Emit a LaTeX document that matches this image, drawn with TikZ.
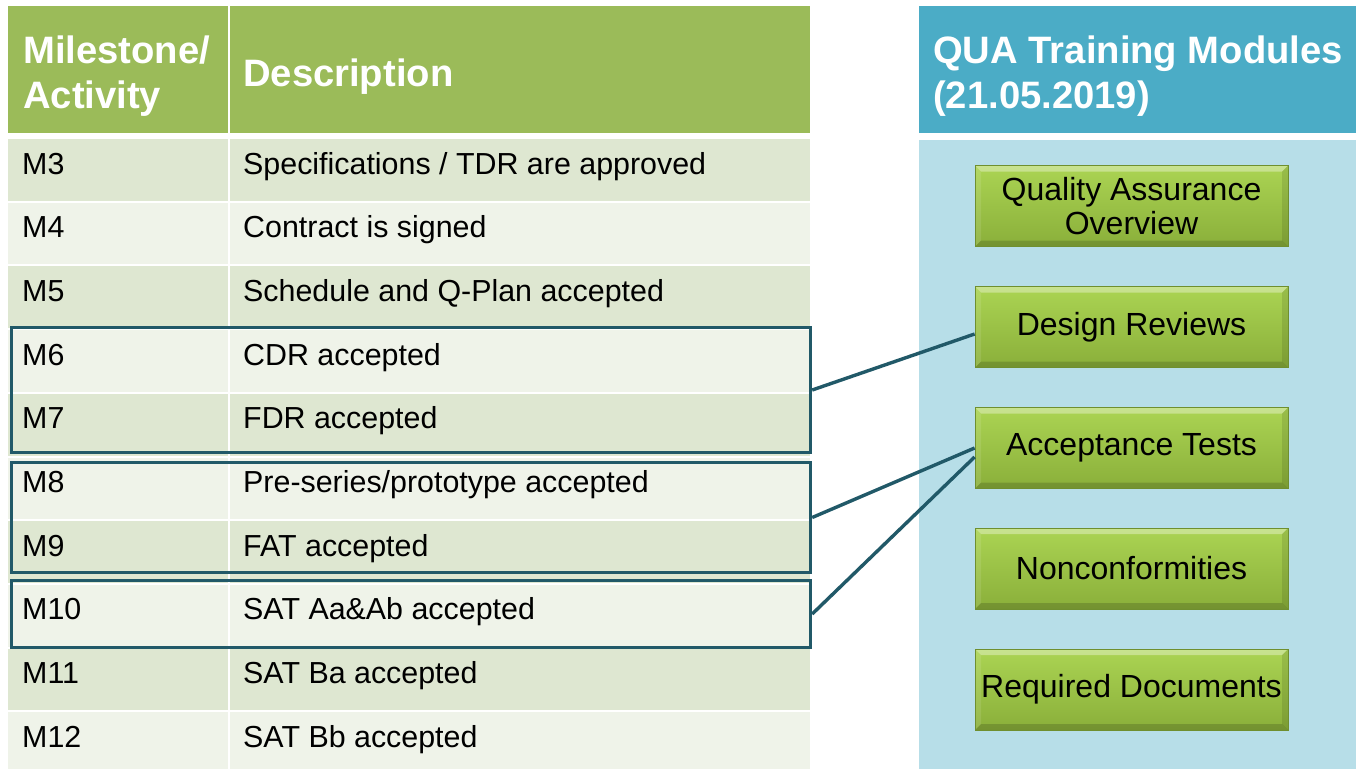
\documentclass[tikz,border=0pt]{standalone}
\usepackage{fontspec}
\setmainfont{Liberation Sans}
\usetikzlibrary{calc}

\definecolor{hdrgreen}{HTML}{9BBB59}
\definecolor{rowdark}{HTML}{DEE7D1}
\definecolor{rowlight}{HTML}{EFF3E9}
\definecolor{hdrblue}{HTML}{4BACC6}
\definecolor{panelblue}{HTML}{B7DEE8}
\definecolor{grpline}{HTML}{215968}
\definecolor{btntop}{HTML}{ABD453}
\definecolor{btnbot}{HTML}{8AAF3A}
\definecolor{btnedge}{HTML}{6F8F2F}

\tikzset{
  cell/.style={anchor=base west, inner sep=0pt, font=\fontsize{30.4}{36}\selectfont},
  hdrtext/.style={anchor=base west, inner sep=0pt, text=white, font=\fontsize{38.2}{45}\selectfont\bfseries},
  grpbox/.style={rectangle, draw=grpline, line width=3.4pt, inner sep=0pt, minimum width=799pt},
  link/.style={draw=grpline, line width=3.4pt},
  btn/.style={rectangle, inner sep=0pt, minimum width=313pt, minimum height=81pt,
    align=center, font=\fontsize{32}{34}\selectfont,
    top color=btntop, bottom color=btnbot, draw=btnedge, line width=0.8pt,
    path picture={
      \coordinate (bnw) at (path picture bounding box.north west);
      \coordinate (bne) at (path picture bounding box.north east);
      \coordinate (bsw) at (path picture bounding box.south west);
      \coordinate (bse) at (path picture bounding box.south east);
      \fill[white, opacity=0.35] (bnw) -- (bne) -- ([shift={(-6pt,-6pt)}]bne) -- ([shift={(6pt,-6pt)}]bnw) -- cycle;
      \fill[white, opacity=0.10] (bnw) -- ([shift={(6pt,-6pt)}]bnw) -- ([shift={(6pt,6pt)}]bsw) -- (bsw) -- cycle;
      \fill[black, opacity=0.10] (bne) -- ([shift={(-6pt,-6pt)}]bne) -- ([shift={(-6pt,6pt)}]bse) -- (bse) -- cycle;
      \fill[black, opacity=0.16] (bsw) -- (bse) -- ([shift={(-6pt,6pt)}]bse) -- ([shift={(6pt,6pt)}]bsw) -- cycle;
    }},
}

\begin{document}
\begin{tikzpicture}[x=1pt, y=-1pt]
\useasboundingbox (0,0) rectangle (1356,769);
\fill[white] (0,0) rectangle (1356,769);

% milestone table: header
\fill[hdrgreen] (8,6) rectangle (810,133);
\draw[white, line width=2pt] (229,6) -- (229,133);

% milestone table: banded rows
\foreach \i in {0,...,9} {
  \pgfmathsetmacro\rtop{139+63.7*\i}
  \pgfmathsetmacro\rbot{min(\rtop+61.7,769)}
  \ifodd\i \def\rowcol{rowlight}\else \def\rowcol{rowdark}\fi
  \fill[\rowcol] (8,\rtop) rectangle (810,\rbot);
}
\draw[white, line width=2pt] (229,139) -- (229,769);

\node[hdrtext] (hm1) at (23,63) {Milestone/};
\node[hdrtext] (hm2) at (23,108) {Activity};
\node[hdrtext] (hd)  at (243,86) {Description};

\node[cell] (m3)  at (22,174)   {M3};  \node[cell] (d3)  at (243,174)   {Specifications / TDR are approved};
\node[cell] (m4)  at (22,237.7) {M4};  \node[cell] (d4)  at (243,237.7) {Contract is signed};
\node[cell] (m5)  at (22,301.4) {M5};  \node[cell] (d5)  at (243,301.4) {Schedule and Q-Plan accepted};
\node[cell] (m6)  at (22,365.1) {M6};  \node[cell] (d6)  at (243,365.1) {CDR accepted};
\node[cell] (m7)  at (22,428.8) {M7};  \node[cell] (d7)  at (243,428.8) {FDR accepted};
\node[cell] (m8)  at (22,492.5) {M8};  \node[cell] (d8)  at (243,492.5) {Pre-series/prototype accepted};
\node[cell] (m9)  at (22,556.2) {M9};  \node[cell] (d9)  at (243,556.2) {FAT accepted};
\node[cell] (m10) at (22,619.9) {M10}; \node[cell] (d10) at (243,619.9) {SAT Aa\&Ab accepted};
\node[cell] (m11) at (22,683.6) {M11}; \node[cell] (d11) at (243,683.6) {SAT Ba accepted};
\node[cell] (m12) at (22,747.3) {M12}; \node[cell] (d12) at (243,747.3) {SAT Bb accepted};

% grouped milestones
\node[grpbox, minimum height=125pt] (g1) at (411,390)   {};
\node[grpbox, minimum height=110pt] (g2) at (411,517.5) {};
\node[grpbox, minimum height=67pt]  (g3) at (411,614)   {};

% training modules panel
\fill[hdrblue] (919,6) rectangle (1356,133);
\fill[panelblue] (919,140) rectangle (1356,769);
\node[hdrtext] (qh1) at (933,63)  {QUA Training Modules};
\node[hdrtext] (qh2) at (933,108) {(21.05.2019)};

\node[btn] (qa) at (1131.5,206)   {Quality Assurance\\Overview};
\node[btn] (dr) at (1131.5,327)   {Design Reviews};
\node[btn] (at) at (1131.5,448)   {Acceptance Tests};
\node[btn] (nc) at (1131.5,568.5) {Nonconformities};
\node[btn] (rd) at (1131.5,689.5) {Required Documents};

% links from milestone groups to modules
\draw[link] (g1.east) -- ([yshift=-7pt]dr.west);
\draw[link] (g2.east) -- (at.west);
\draw[link] (g3.east) -- ([yshift=-9pt]at.west);
\end{tikzpicture}
\end{document}
